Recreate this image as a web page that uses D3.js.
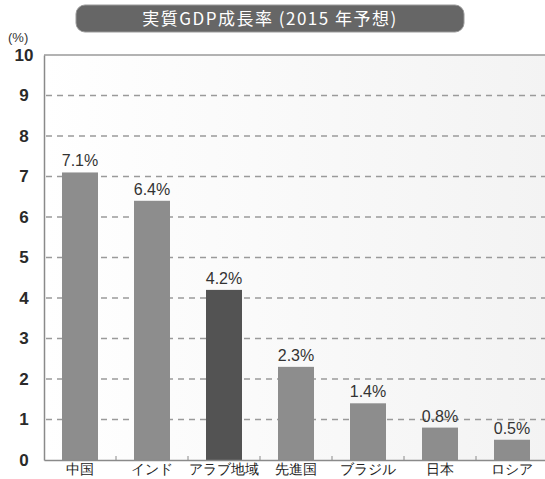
<!DOCTYPE html>
<html>
<head>
<meta charset="utf-8">
<script src="https://cdn.jsdelivr.net/npm/d3@7"></script>
<style>
  body { margin: 0; background: #fff; }
  svg { display: block; font-family: "Noto Sans CJK JP", "Noto Sans", sans-serif; }
</style>
</head>
<body>
<div id="chart"></div>
<script>
var categories = ["中国", "インド", "アラブ地域", "先進国", "ブラジル", "日本", "ロシア"];
var growth = [7.1, 6.4, 4.2, 2.3, 1.4, 0.8, 0.5];
var labels = ["7.1%", "6.4%", "4.2%", "2.3%", "1.4%", "0.8%", "0.5%"];
var highlight = ["アラブ地域"];
var yTicks = [0, 1, 2, 3, 4, 5, 6, 7, 8, 9, 10];
var title = "実質GDP成長率 (2015 年予想)";

var width = 545, height = 479;
var plotLeft = 44, plotRight = 548, plotTop = 55, plotBottom = 460;

var svg = d3.select("#chart").append("svg")
	.attr("width", width)
	.attr("height", height);

var defs = svg.append("defs");
var grad = defs.append("linearGradient")
	.attr("id", "bg").attr("x1", 0).attr("y1", 0).attr("x2", 1).attr("y2", 0);
grad.append("stop").attr("offset", "0%").attr("stop-color", "#ffffff");
grad.append("stop").attr("offset", "100%").attr("stop-color", "#f3f3f3");

var x = d3.scaleBand()
	.domain(categories)
	.range([plotLeft, plotRight])
	.paddingInner(0.5)
	.paddingOuter(0.25);

var y = d3.scaleLinear()
	.domain([0, 10])
	.range([plotBottom, plotTop]);

// plot background
svg.append("rect")
	.attr("x", plotLeft).attr("y", plotTop)
	.attr("width", plotRight - plotLeft).attr("height", plotBottom - plotTop)
	.attr("fill", "url(#bg)");

// gridlines
svg.selectAll(".grid")
	.data(yTicks.filter(function(d) { return d > 0 && d < 10; }))
	.enter()
	.append("line")
	.attr("class", "grid")
	.attr("x1", plotLeft + 2).attr("x2", plotRight)
	.attr("y1", function(d) { return y(d); })
	.attr("y2", function(d) { return y(d); })
	.attr("stroke", "#9a9a9a")
	.attr("stroke-width", 1.3)
	.attr("stroke-dasharray", "6,5");

// top border
svg.append("line")
	.attr("x1", plotLeft).attr("x2", plotRight)
	.attr("y1", y(10)).attr("y2", y(10))
	.attr("stroke", "#9a9a9a").attr("stroke-width", 1.5);

// bars
svg.selectAll(".bar")
	.data(growth)
	.enter()
	.append("rect")
	.attr("class", "bar")
	.attr("x", function(d, i) { return x(categories[i]); })
	.attr("y", function(d) { return y(d); })
	.attr("width", x.bandwidth())
	.attr("height", function(d) { return y(0) - y(d); })
	.attr("fill", function(d, i) {
		return highlight.indexOf(categories[i]) >= 0 ? "#535353" : "#8d8d8d";
	});

// value labels
svg.selectAll(".val")
	.data(labels)
	.enter()
	.append("text")
	.attr("class", "val")
	.attr("x", function(d, i) { return x(categories[i]) + x.bandwidth() / 2; })
	.attr("y", function(d, i) { return y(growth[i]) - 6; })
	.attr("text-anchor", "middle")
	.attr("font-family", "Arial, 'Liberation Sans', sans-serif")
	.attr("font-size", "16px")
	.attr("fill", "#333")
	.text(function(d) { return d; });

// y axis
var yAxis = svg.append("g")
	.attr("transform", "translate(" + plotLeft + ",0)")
	.call(d3.axisLeft(y).tickValues(yTicks).tickSize(0).tickPadding(15).tickFormat(d3.format("d")));
yAxis.select(".domain").attr("stroke", "#8a8a8a").attr("stroke-width", 1.5);
yAxis.selectAll("text")
	.attr("font-family", "Arial, 'Liberation Sans', sans-serif")
	.attr("font-size", "17px")
	.attr("font-weight", "bold")
	.attr("fill", "#2a2a2a")
	.attr("text-anchor", "middle")
	.attr("dx", "-5");

// x axis
var xAxis = svg.append("g")
	.attr("transform", "translate(0," + plotBottom + ")")
	.call(d3.axisBottom(x).tickSize(0).tickPadding(4));
xAxis.select(".domain").attr("stroke", "#8a8a8a").attr("stroke-width", 1.5);
xAxis.selectAll("text")
	.attr("font-size", "14px")
	.attr("fill", "#222");

// small separators on the x axis
svg.selectAll(".sep")
	.data(categories.slice(1))
	.enter()
	.append("line")
	.attr("class", "sep")
	.attr("x1", function(d) { return x(d) - x.step() * x.paddingInner() / 2; })
	.attr("x2", function(d) { return x(d) - x.step() * x.paddingInner() / 2; })
	.attr("y1", plotBottom - 4).attr("y2", plotBottom)
	.attr("stroke", "#8a8a8a");

// unit
svg.append("text")
	.attr("x", 8).attr("y", 42)
	.attr("font-family", "Arial, 'Liberation Sans', sans-serif")
	.attr("font-size", "13px")
	.attr("fill", "#333")
	.text("(%)");

// title box
svg.append("rect")
	.attr("x", 76).attr("y", 5)
	.attr("width", 388).attr("height", 27)
	.attr("rx", 9)
	.attr("fill", "#666")
	.attr("stroke", "#999")
	.attr("stroke-width", 1);

svg.append("text")
	.attr("x", 270).attr("y", 25)
	.attr("text-anchor", "middle")
	.attr("font-size", "17px")
	.attr("letter-spacing", "1.5px")
	.attr("fill", "#fff")
	.text(title);
</script>
</body>
</html>
